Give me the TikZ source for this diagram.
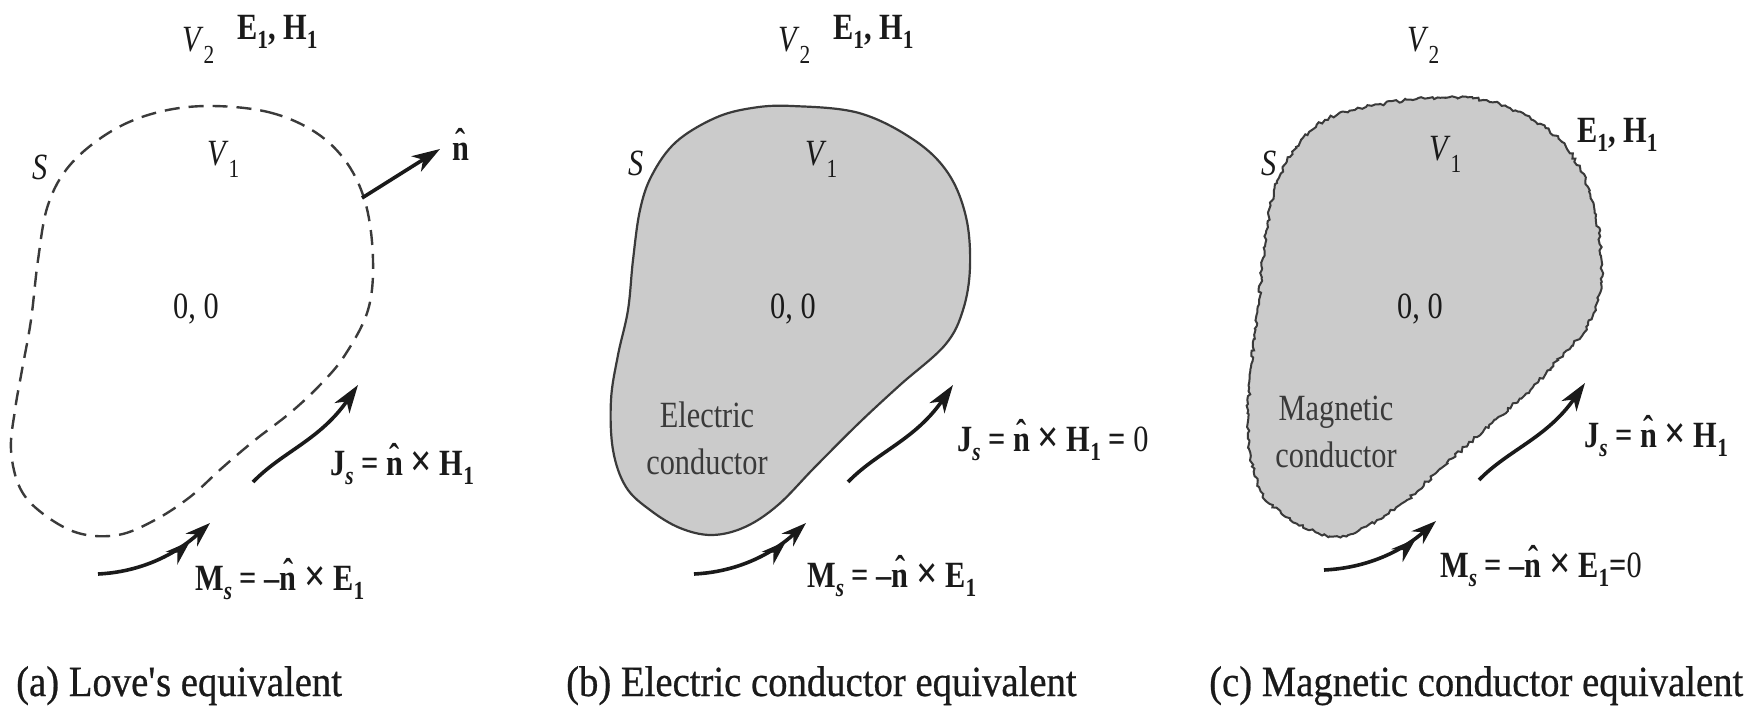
\documentclass[tikz,border=0pt]{standalone}
\usepackage{fontspec}
\setmainfont{Liberation Serif}
\newfontfamily\labfont[FakeStretch=0.82]{Liberation Serif}
\newfontfamily\capfont[FakeStretch=0.9,FakeBold=0.6]{Liberation Serif}
\usetikzlibrary{arrows.meta,decorations.pathmorphing}
\definecolor{ink}{HTML}{1A1A1A}
\definecolor{shade}{HTML}{CBCBCB}
\definecolor{edge}{HTML}{3A3A3A}
\newcommand\sub[1]{\raisebox{-9pt}{\fontsize{26}{26}\selectfont #1}}
\newcommand\vsub[1]{\raisebox{-12pt}{\fontsize{26}{26}\selectfont #1}}
\newcommand\nhat{\mbox{\ooalign{n\cr\hidewidth\raisebox{0.16em}{\char"02C6}\hidewidth\cr}}}
\newcommand\cross{\raisebox{-1pt}{\fontsize{46}{46}\selectfont ×}}
\newcommand\EH{\textbf{E\sub{1}, H\sub{1}}}
\newcommand\Vtwo{\textit{V}\vsub{2}}
\newcommand\Vone{\textit{V}\vsub{1}}
\newcommand\JsH{\textbf{J\sub{\textit{s}} = \nhat{} \cross{} H\sub{1}}}
\newcommand\MsE{\textbf{M\sub{\textit{s}} = –\nhat{} \cross{} E\sub{1}}}
\begin{document}
\begin{tikzpicture}[x=1pt,y=-1pt,
  lab/.style={font=\labfont\fontsize{37}{47}\selectfont, text=ink, inner sep=0pt, anchor=base west},
  inlab/.style={font=\labfont\fontsize{37}{47}\selectfont, text=edge, inner sep=0pt, align=center},
  captext/.style={font=\capfont\fontsize{43}{48}\selectfont, text=ink, inner sep=0pt, anchor=base west},
  cur/.style={line width=3.6pt, draw=ink, -{Stealth[length=28pt,width=18pt,inset=8pt]}},
  mcur/.style={line width=3.6pt, draw=ink, -{Stealth[length=25pt,width=17pt,inset=8pt,sep=2pt]Stealth[length=25pt,width=17pt,inset=8pt]}},
  dashsurf/.style={draw=edge, line width=2.4pt, dash pattern=on 15pt off 9pt},
  solidsurf/.style={draw=edge, fill=shade, line width=2.2pt},
  roughsurf/.style={draw=edge, fill=shade, line width=2pt, decorate,
     decoration={random steps, segment length=3pt, amplitude=1.6pt}}]
\pgfmathsetseed{7}
\useasboundingbox (0,0) rectangle (1750,725);
\fill[white] (0,0) rectangle (1750,725);

% ---------- (a) Love's equivalent ----------
\path[dashsurf] plot[smooth cycle, tension=0.6] coordinates {
 (207,106) (268,112) (315,132) (347,163) (366,205) (373,260) (368,310) (345,355)
 (320,385) (290,413) (255,440) (222,468) (190,497) (155,520) (118,535) (78,533) (42,513)
 (20,488) (11,450) (15,410) (22,370) (31,320) (38,260) (48,205) (70,165) (110,132) (155,113)};
\node[lab] (aV2) at (182,52) {\Vtwo};
\node[lab] (aEH) at (237,40) {\EH};
\node[lab] (aS) at (32,179) {\textit{S}};
\node[lab] (aV1) at (207,165) {\Vone};
\node[lab] (an) at (452,160) {\textbf{\nhat}};
\node[lab] (a00) at (173,318) {0, 0};
\node[lab] (aJs) at (330,475) {\JsH};
\node[lab] (aMs) at (195,590) {\MsE};
\node[captext] (acap) at (16,696) {(a) Love\textquotesingle s equivalent};
\coordinate (anb) at (362,198);
\coordinate (ane) at (440,149);
\draw[cur] (anb) -- (ane);
\coordinate (aJ0) at (253,482); \coordinate (aJ1) at (358,385);
\draw[cur] (aJ0) .. controls (282,452) and (320,440) .. (aJ1);
\coordinate (aM0) at (98,574); \coordinate (aM1) at (210,523);
\draw[mcur] (aM0) .. controls (140,572) and (175,555) .. (aM1);

% ---------- (b) Electric conductor equivalent ----------
\path[solidsurf] plot[smooth cycle, tension=0.6] coordinates {
 (792,106) (859,113) (914,140) (948,173) (966,217) (970,267) (963,310) (945,345)
 (900,385) (859,423) (815,467) (778,505) (745,527) (712,535) (680,528) (650,510)
 (626,487) (613,450) (611,400) (618,355) (628,310) (633,260) (640,210) (652,175)
 (676,142) (715,118) (752,108)};
\node[lab] (bV2) at (778,52) {\Vtwo};
\node[lab] (bEH) at (833,40) {\EH};
\node[lab] (bS) at (628,175) {\textit{S}};
\node[lab] (bV1) at (805,165) {\Vone};
\node[lab] (b00) at (770,318) {0, 0};
\node[inlab] (bcond) at (707,438) {Electric\\conductor};
\node[lab] (bJs) at (957,451) {\JsH\ \textbf{=} 0};
\node[lab] (bMs) at (807,587) {\MsE};
\node[captext] (bcap) at (566,696) {(b) Electric conductor equivalent};
\coordinate (bJ0) at (848,482); \coordinate (bJ1) at (953,385);
\draw[cur] (bJ0) .. controls (877,452) and (915,440) .. (bJ1);
\coordinate (bM0) at (694,574); \coordinate (bM1) at (806,523);
\draw[mcur] (bM0) .. controls (736,572) and (771,555) .. (bM1);

% ---------- (c) Magnetic conductor equivalent ----------
\path[roughsurf] plot[smooth cycle, tension=0.6] coordinates {
 (1429,98) (1484,100) (1533,120) (1566,147) (1588,187) (1599,233) (1601,283) (1588,325)
 (1565,352) (1533,387) (1484,430) (1436,473) (1407,500) (1377,520) (1348,535) (1318,533)
 (1281,513) (1259,487) (1248,433) (1251,367) (1259,300) (1266,233) (1277,183) (1296,147)
 (1325,120) (1366,107)};
\node[lab] (cV2) at (1407,52) {\Vtwo};
\node[lab] (cEH) at (1577,142) {\EH};
\node[lab] (cS) at (1261,175) {\textit{S}};
\node[lab] (cV1) at (1429,160) {\Vone};
\node[lab] (c00) at (1397,318) {0, 0};
\node[inlab] (ccond) at (1336,432) {Magnetic\\conductor};
\node[lab] (cJs) at (1584,447) {\JsH};
\node[lab] (cMs) at (1440,577) {\MsE\textbf{=}0};
\node[captext] (ccap) at (1209,696) {(c) Magnetic conductor equivalent};
\coordinate (cJ0) at (1479,480); \coordinate (cJ1) at (1585,383);
\draw[cur] (cJ0) .. controls (1508,450) and (1547,438) .. (cJ1);
\coordinate (cM0) at (1324,570); \coordinate (cM1) at (1436,521);
\draw[mcur] (cM0) .. controls (1366,568) and (1401,552) .. (cM1);
\end{tikzpicture}
\end{document}
